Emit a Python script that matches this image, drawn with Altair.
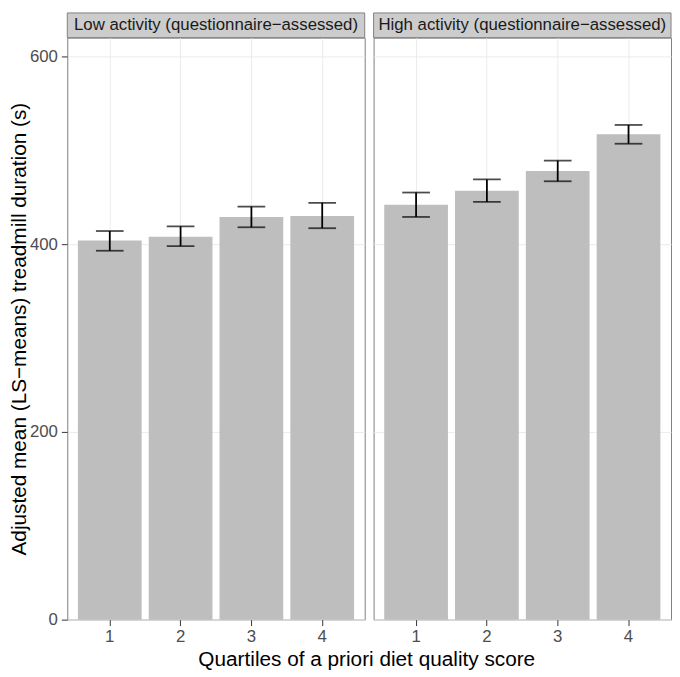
import altair as alt
import pandas as pd

# ---- data ----
quartiles = ["1", "2", "3", "4"]
panels = ["Low activity (questionnaire\u2212assessed)", "High activity (questionnaire\u2212assessed)"]
low_mean = [404, 408, 429, 430]
low_lo = [393, 398, 418, 417]
low_hi = [414, 419, 440, 444]
high_mean = [442, 457, 478, 517]
high_lo = [429, 445, 467, 507]
high_hi = [455, 469, 489, 527]
y_ticks = [0, 200, 400, 600]

FONT = "Liberation Sans"
W = 301
H = 589
STRIP = 25
Y_MAX = 620

def panel(name, means, los, his, first):
    df = pd.DataFrame({"q": quartiles, "mean": means, "lo": los, "hi": his})
    xscale = alt.Scale(domain=quartiles, paddingInner=0.1, paddingOuter=0.15)
    yscale = alt.Scale(domain=[0, Y_MAX], nice=False, zero=True)
    xaxis = alt.Axis(title=None, labelAngle=0, tickSize=6, domain=False, grid=True,
                     gridColor="#ebebeb", bandPosition=0.5, labelFontSize=17,
                     labelColor="#4d4d4d", tickColor="#333333", labelFont=FONT,
                     labelPadding=3)
    if first:
        yaxis = alt.Axis(values=y_ticks, title="Adjusted mean (LS\u2212means) treadmill duration (s)",
                         titleFontSize=21, titleFontWeight="normal", titleFont=FONT,
                         titleColor="#000000", titlePadding=0, labelFontSize=17,
                         labelFont=FONT, labelColor="#4d4d4d", tickSize=6, labelPadding=4,
                         tickColor="#333333", domain=False, grid=True, gridColor="#ebebeb")
    else:
        yaxis = alt.Axis(values=y_ticks, title=None, labels=False, ticks=False,
                         domain=False, grid=True, gridColor="#ebebeb")
    base = alt.Chart(df)
    bars = base.mark_bar(color="#bebebe").encode(
        x=alt.X("q:N", scale=xscale, axis=xaxis, sort=quartiles),
        y=alt.Y("mean:Q", scale=yscale, axis=yaxis),
    )
    err = base.mark_rule(color="black", strokeWidth=1.8).encode(
        x=alt.X("q:N", sort=quartiles), y="lo:Q", y2="hi:Q")
    cap_lo = base.mark_tick(color="black", thickness=1.8, size=28).encode(
        x=alt.X("q:N", sort=quartiles), y="lo:Q")
    cap_hi = base.mark_tick(color="black", thickness=1.8, size=28).encode(
        x=alt.X("q:N", sort=quartiles), y="hi:Q")
    sdf = pd.DataFrame({"label": [name]})
    strip = alt.Chart(sdf).mark_rect(fill="#cccccc", stroke="#7f7f7f", strokeWidth=1).encode(
        x=alt.value(0), x2=alt.value(W), y=alt.value(-STRIP), y2=alt.value(0))
    stext = alt.Chart(sdf).mark_text(fontSize=17, font=FONT, color="#1a1a1a", baseline="middle",
                                      align="center").encode(
        x=alt.value(W / 2), y=alt.value(-STRIP / 2), text="label:N")
    return alt.layer(bars, err, cap_lo, cap_hi, strip, stext).properties(width=W, height=H)

left = panel(panels[0], low_mean, low_lo, low_hi, True)
right = panel(panels[1], high_mean, high_lo, high_hi, False)

chart = alt.hconcat(left, right, spacing=7).properties(
    title=alt.TitleParams(text="Quartiles of a priori diet quality score", orient="bottom",
                          anchor="middle", fontSize=21, fontWeight="normal", font=FONT,
                          color="#000000", offset=4, dx=27),
    padding={"left": 0, "top": 0, "right": 0, "bottom": 0},
).configure_view(stroke="#7f7f7f", strokeWidth=1).configure_concat(spacing=7)

chart.save("out.html", embed_options={"renderer": "svg", "actions": False})
